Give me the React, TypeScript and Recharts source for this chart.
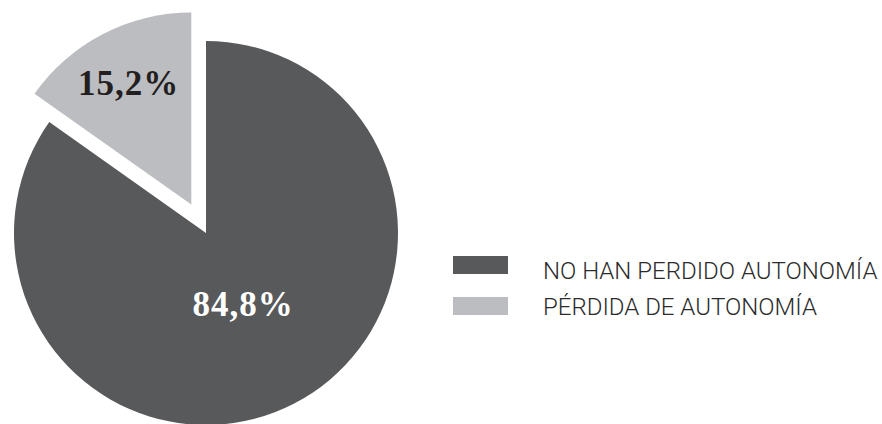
import { Cell, Legend, Pie, PieChart } from "recharts";

const categories = ["NO HAN PERDIDO AUTONOMÍA", "PÉRDIDA DE AUTONOMÍA"];
const shares = [84.8, 15.2];
const shareLabels = ["84,8%", "15,2%"];
const colors = ["#58595b", "#bcbdc0"];

const data = categories.map((name, i) => ({ name, value: shares[i], label: shareLabels[i] }));

const CX = 206;
const CY = 233;
const R = 192;
const EXPLODE = 32;

// the small slice is pulled out along its middle angle
const total = shares[0] + shares[1];
const midDeg = 90 - (360 * (shares[0] + shares[1] / 2)) / total;
const offX = CX + EXPLODE * Math.cos((midDeg * Math.PI) / 180);
const offY = CY - EXPLODE * Math.sin((midDeg * Math.PI) / 180);

const RAD = Math.PI / 180;

const makeLabel = (index: number, ratio: number, fill: string) => (props: any) => {
  if (props.index !== index) return null;
  const { cx, cy, midAngle, outerRadius } = props;
  const x = cx + outerRadius * ratio * Math.cos(-midAngle * RAD);
  const y = cy + outerRadius * ratio * Math.sin(-midAngle * RAD);
  return (
    <text
      x={x}
      y={y}
      fill={fill}
      textAnchor="middle"
      dominantBaseline="central"
      style={{ fontFamily: "'Liberation Serif', 'Times New Roman', serif", fontWeight: 700, fontSize: 35, letterSpacing: 1 }}
    >
      {data[index].label}
    </text>
  );
};

const LegendBox = () => (
  <svg width={429} height={80} style={{ display: "block" }}>
    {categories.map((c, i) => (
      <g key={c}>
        <rect x={0} y={6 + i * 41} width={55} height={18} fill={colors[i]} />
        <text
          x={90}
          y={29 + i * 36}
          fill="#2b2b2b"
          style={{ fontFamily: "Roboto, 'Liberation Sans', sans-serif", fontWeight: 300, fontSize: 24 }}
        >
          {c}
        </text>
      </g>
    ))}
  </svg>
);

export default function App() {
  return (
    <div style={{ position: "absolute", left: 0, top: 0, width: 882, height: 424, background: "#fff" }}>
      <PieChart width={882} height={424} margin={{ top: 0, right: 0, bottom: 0, left: 0 }}>
        <Pie
          data={data}
          dataKey="value"
          cx={CX}
          cy={CY}
          outerRadius={R}
          startAngle={90}
          endAngle={-270}
          stroke="none"
          labelLine={false}
          label={makeLabel(0, 0.42, "#ffffff")}
          isAnimationActive={false}
        >
          <Cell fill={colors[0]} />
          <Cell fill="none" />
        </Pie>
        <Pie
          data={data}
          dataKey="value"
          cx={offX}
          cy={offY}
          outerRadius={R}
          startAngle={90}
          endAngle={-270}
          stroke="none"
          labelLine={false}
          label={makeLabel(1, 0.71, "#231f20")}
          isAnimationActive={false}
        >
          <Cell fill="none" />
          <Cell fill={colors[1]} />
        </Pie>
        <Legend
          content={<LegendBox />}
          wrapperStyle={{ position: "absolute", left: 453, top: 250, width: 429 }}
        />
      </PieChart>
    </div>
  );
}
